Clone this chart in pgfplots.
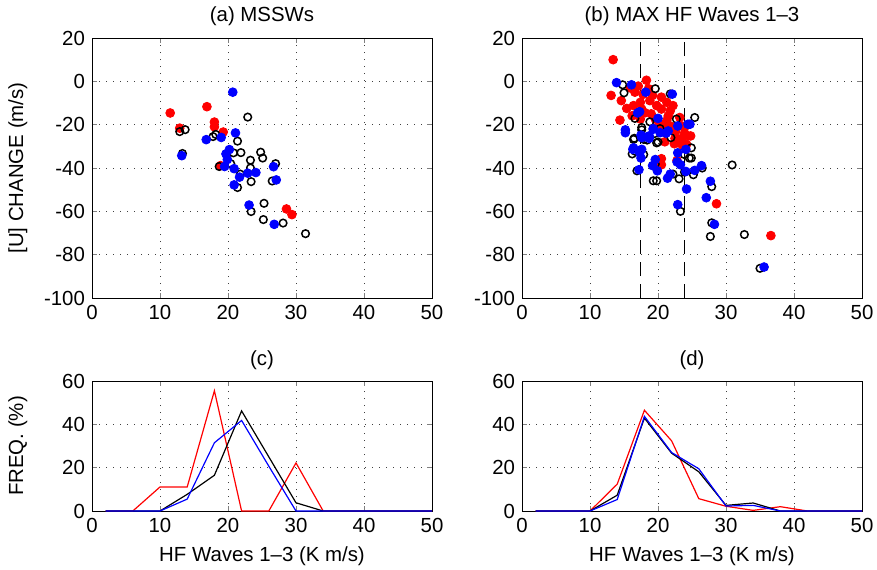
\documentclass[border=0pt]{standalone}
\usepackage{pgfplots}
\pgfplotsset{compat=1.18}
\usepackage{fontspec}
\setmainfont{Liberation Sans}
\pgfplotsset{
  myaxis/.style={
    scale only axis, width=170pt, xmin=0, xmax=50, xtick={0,10,...,50},
    grid=major, grid style={dash pattern=on 0.5pt off 3pt, black!75, line width=0.5pt},
    tick align=inside, major tick length=2.5pt,
    axis line style={line width=0.5pt},
    /pgf/number format/assume math mode=true,
    tick label style={font=\fontsize{10.2}{12}\selectfont},
    label style={font=\fontsize{10.2}{12}\selectfont},
    title style={font=\fontsize{10.2}{12}\selectfont},
    ylabel style={at={(axis description cs:-0.218,0.5)},anchor=center},
  },
  redpt/.style={only marks, mark=*, mark size=2.2pt, color=red},
  bluept/.style={only marks, mark=*, mark size=2.2pt, color=blue},
  openpt/.style={only marks, mark=o, mark size=1.9pt, color=black, mark options={line width=0.75pt}},
  freq/.style={line width=0.6pt, mark=none},
}
\begin{document}
\begin{tikzpicture}
\path[use as bounding box] (0,0) rectangle (438.5pt,-284.5pt);
% (a)
\begin{axis}[myaxis, at={(46pt,-19pt)}, anchor=north west, height=130pt,
  ymin=-100, ymax=20, ytick={-100,-80,...,20},
  title={(a) MSSWs}, title style={yshift=-3.5pt}, ylabel={[U] CHANGE (m/s)}]
\addplot[redpt] coordinates {(11.5,-14.6)(16.9,-11.7)(12.9,-21.6)(18.0,-18.8)(18.0,-21.0)(19.3,-23.4)(18.9,-38.9)(28.6,-58.9)(29.4,-61.5)};
\addplot[openpt] coordinates {(12.9,-23.2)(13.7,-22.3)(13.3,-33.3)(17.8,-25.5)(18.2,-24.5)(21.4,-27.6)(22.9,-16.5)(20.8,-33.0)(21.9,-32.9)(20.4,-38)(18.7,-39.3)(23.3,-36.4)(24.8,-32.7)(25.1,-35.4)(27.0,-38)(23.3,-40)(21.8,-42.8)(23.4,-46.3)(21.4,-49)(26.5,-46)(23.4,-60.1)(25.3,-56.3)(25.2,-63.8)(28.1,-65.4)(31.4,-70.3)};
\addplot[bluept] coordinates {(13.2,-34.3)(19.0,-25.9)(16.8,-26.9)(20.7,-5.0)(21.1,-23.8)(20.2,-31.5)(19.7,-33.5)(19.9,-36.1)(19.5,-39.3)(20.9,-40.3)(26.7,-39.4)(22.9,-42.4)(24.1,-42.1)(21.7,-44.2)(20.9,-47.8)(27.1,-45.5)(23.1,-57.1)(26.8,-66.0)};
\end{axis}
% (b)
\begin{axis}[myaxis, at={(261pt,-19pt)}, anchor=north west, height=130pt,
  ymin=-100, ymax=20, ytick={-100,-80,...,20},
  title={(b) MAX HF Waves 1--3}, title style={yshift=-3.5pt}]
\addplot[black, line width=0.6pt, dash pattern=on 7pt off 4pt] coordinates {(17.4,-100)(17.4,20)};
\addplot[black, line width=0.6pt, dash pattern=on 7pt off 4pt] coordinates {(23.9,-100)(23.9,20)};
\addplot[redpt] coordinates {(13.4,10.0)(13.1,-6.5)(14.6,-8.9)(15.4,-12.5)(14.4,-17.9)(16.6,-5)(18.3,0.5)(18.6,-3.4)(17.1,-2.2)(16.4,-11.2)(17.4,-9.7)(17.6,-12.8)(18.8,-8.9)(19.8,-11.2)(20.5,-7.3)(20.5,-12.8)(21.3,-9.7)(21.8,-13.6)(22.2,-11.2)(23.2,-16.7)(21.3,-18.2)(22.0,-20.9)(19.6,-17.4)(20.2,-19.8)(17.4,-17.4)(16.2,-15.9)(23.9,-21.3)(23.5,-20.6)(20.0,-21.4)(21.0,-21.4)(21.0,-27.9)(22.5,-26.3)(23.0,-28.4)(22.4,-28.8)(23.5,-26.3)(23.9,-24.1)(24.4,-25.2)(24.2,-29.1)(23.7,-29.9)(24.8,-25.2)(20.5,-35.7)(20.5,-38.5)(22.8,-36.5)(28.6,-56.5)(36.6,-71.2)(15.9,-3)(17.8,-6)(19.2,-6.5)(18.1,-14.5)(22.6,-23)(19.0,-15)(21.5,-16)};
\addplot[openpt] coordinates {(14.8,-1.6)(15.0,-5.3)(19.6,-3.4)(21.8,-5.8)(16.6,-17.1)(18.8,-18.7)(22.7,-17.4)(25.4,-16.7)(20.3,-21.8)(17.6,-21.3)(16.5,-26.3)(17.9,-26.8)(19.8,-28.4)(19.5,-24.1)(21.0,-23.7)(21.9,-26)(24.9,-30.7)(23.9,-33.8)(24.6,-35.4)(16.2,-33.5)(17.9,-33.8)(16.9,-41.3)(19.6,-38.2)(23.9,-41.9)(25.2,-43.1)(26.5,-40)(22.2,-42.8)(23.1,-45)(19.3,-45.9)(19.8,-45.9)(27.9,-48.6)(23.3,-60)(30.9,-38.6)(27.9,-65.3)(27.7,-71.6)(32.7,-70.7)(35.0,-86.3)(18.4,-27.1)(16.6,-32.2)(20.0,-28)(17.6,-22.4)(16.4,-26.8)(24.9,-35.4)};
\addplot[bluept] coordinates {(13.9,-0.6)(16.1,-1.6)(18.2,-5)(22.1,-5.9)(17.0,-14.6)(17.3,-14)(20.0,-17.1)(22.9,-20.6)(24.4,-19.8)(24.7,-19.8)(19.3,-21.8)(15.2,-22.4)(15.2,-23.7)(17.5,-24.8)(18.4,-25.7)(18.7,-26.3)(21.2,-23.9)(19.3,-22.1)(20.3,-23.7)(21.5,-22.9)(16.4,-30.7)(17.6,-31.4)(16.3,-31.4)(17.3,-33)(17.5,-35.4)(17.2,-40.8)(19.6,-36.1)(19.2,-38.9)(19.9,-41.3)(22.8,-37.2)(23.3,-38.5)(24.1,-31.4)(22.9,-33)(24.1,-41.6)(25.4,-41.1)(26.4,-38.9)(21.8,-42.8)(21.4,-44.7)(24.2,-49.7)(27.7,-46.1)(27.1,-53.7)(22.9,-56.9)(28.3,-66)(35.6,-85.7)(18.7,-25.2)(17.6,-26)};
\end{axis}
% (c)
\begin{axis}[myaxis, at={(46pt,-190.5pt)}, anchor=north west, height=65pt,
  ymin=0, ymax=60, ytick={0,20,40,60},
  title={(c)}, title style={yshift=-4pt}, ylabel={FREQ. (\%)}, xlabel={HF Waves 1--3 (K m/s)}]
\addplot[freq, red] coordinates {(2,0)(6,0)(10,11.1)(14,11.1)(18,55.5)(22,0)(26,0)(30,22.2)(34,0)(38,0)(42,0)(46,0)(50,0)};
\addplot[freq, black] coordinates {(2,0)(6,0)(10,0)(14,7.7)(18,16.5)(22,46.2)(26,25)(30,3.8)(34,0)(38,0)(42,0)(46,0)(50,0)};
\addplot[freq, blue] coordinates {(2,0)(6,0)(10,0)(14,5.5)(18,31.5)(22,41.8)(26,20.7)(30,0)(34,0)(38,0)(42,0)(46,0)(50,0)};
\end{axis}
% (d)
\begin{axis}[myaxis, at={(261pt,-190.5pt)}, anchor=north west, height=65pt,
  ymin=0, ymax=60, ytick={0,20,40,60},
  title={(d)}, title style={yshift=-4pt}, xlabel={HF Waves 1--3 (K m/s)}]
\addplot[freq, red] coordinates {(2,0)(6,0)(10,0)(14,12.4)(18,46.5)(22,32.4)(26,5.7)(30,2.2)(34,0.3)(38,2.0)(42,0)(46,0)(50,0)};
\addplot[freq, black] coordinates {(2,0)(6,0)(10,0)(14,7.3)(18,42.9)(22,26.7)(26,18.1)(30,2.6)(34,3.7)(38,0)(42,0)(46,0)(50,0)};
\addplot[freq, blue] coordinates {(2,0)(6,0)(10,0)(14,5.3)(18,43.7)(22,27)(26,19.5)(30,2.3)(34,2.6)(38,0)(42,0)(46,0)(50,0)};
\end{axis}
\end{tikzpicture}
\end{document}
